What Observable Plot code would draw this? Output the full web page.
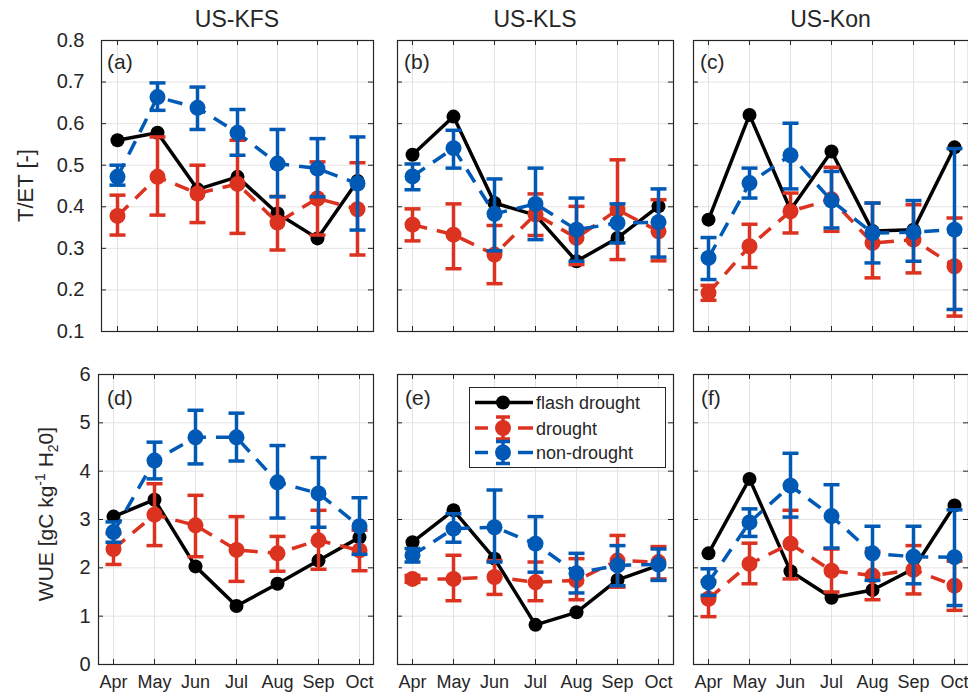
<!DOCTYPE html>
<html><head><meta charset="utf-8">
<script src="https://cdn.jsdelivr.net/npm/d3@7"></script>
<script src="https://cdn.jsdelivr.net/npm/@observablehq/plot@0.6"></script>
<style>
html,body{margin:0;padding:0;background:#fff;overflow:hidden}
#chart{position:relative;width:968px;height:692px;font-family:"Liberation Sans",Arial,sans-serif}
#chart svg{position:absolute}
</style></head><body><div id="chart"></div>
<script>
const months = ["Apr","May","Jun","Jul","Aug","Sep","Oct"];
const sites = ["US-KFS","US-KLS","US-Kon"];
const panelLabels = ["(a)","(b)","(c)","(d)","(e)","(f)"];
const tetTicks = [0.1,0.2,0.3,0.4,0.5,0.6,0.7,0.8];
const wueTicks = [0,1,2,3,4,5,6];
const legendLabels = ["flash drought","drought","non-drought"];
const seriesColors = ["#000000","#DC3220","#005AB5"];

// (a) US-KFS T/ET
const kfsTetFlash   = [0.560,0.578,0.442,0.472,0.384,0.324,0.462];
const kfsTetDrought = [0.378,0.472,0.432,0.455,0.362,0.420,0.394];
const kfsTetDroughtLo = [0.332,0.380,0.362,0.336,0.296,0.332,0.284];
const kfsTetDroughtHi = [0.428,0.568,0.500,0.560,0.425,0.508,0.506];
const kfsTetNon   = [0.472,0.664,0.638,0.578,0.504,0.492,0.456];
const kfsTetNonLo = [0.452,0.632,0.586,0.524,0.424,0.424,0.344];
const kfsTetNonHi = [0.500,0.698,0.688,0.634,0.586,0.564,0.568];
// (b) US-KLS T/ET
const klsTetFlash   = [0.525,0.617,0.409,0.380,0.269,0.325,0.401];
const klsTetDrought = [0.357,0.333,0.285,0.382,0.325,0.393,0.341];
const klsTetDroughtLo = [0.318,0.251,0.215,0.331,0.261,0.273,0.270];
const klsTetDroughtHi = [0.395,0.407,0.355,0.431,0.401,0.513,0.417];
const klsTetNon   = [0.473,0.541,0.383,0.407,0.345,0.361,0.363];
const klsTetNonLo = [0.441,0.493,0.294,0.321,0.269,0.313,0.279];
const klsTetNonHi = [0.503,0.584,0.467,0.493,0.421,0.407,0.443];
// (c) US-Kon T/ET
const konTetFlash   = [0.369,0.621,0.393,0.533,0.342,0.345,0.543];
const konTetDrought = [0.193,0.305,0.389,0.418,0.313,0.321,0.257];
const konTetDroughtLo = [0.175,0.254,0.337,0.341,0.229,0.241,0.137];
const konTetDroughtHi = [0.211,0.358,0.433,0.495,0.409,0.405,0.373];
const konTetNon   = [0.277,0.457,0.524,0.415,0.337,0.339,0.345];
const konTetNonLo = [0.225,0.421,0.443,0.349,0.265,0.269,0.153];
const konTetNonHi = [0.326,0.493,0.601,0.485,0.409,0.415,0.540];
// (d) US-KFS WUE
const kfsWueFlash   = [3.06,3.41,2.03,1.21,1.67,2.15,2.63];
const kfsWueDrought = [2.39,3.10,2.88,2.37,2.30,2.57,2.36];
const kfsWueDroughtLo = [2.07,2.46,2.23,1.72,1.93,1.97,1.94];
const kfsWueDroughtHi = [2.71,3.74,3.50,3.06,2.65,3.19,2.78];
const kfsWueNon   = [2.74,4.22,4.70,4.70,3.77,3.54,2.86];
const kfsWueNonLo = [2.53,3.84,4.15,4.21,3.03,2.84,2.28];
const kfsWueNonHi = [2.95,4.60,5.26,5.20,4.53,4.28,3.45];
// (e) US-KLS WUE
const klsWueFlash   = [2.53,3.19,2.19,0.82,1.08,1.75,2.05];
const klsWueDrought = [1.77,1.77,1.81,1.70,1.74,2.15,2.12];
const klsWueDroughtLo = [1.70,1.32,1.45,1.32,1.34,1.60,1.77];
const klsWueDroughtHi = [1.84,2.26,2.15,2.12,2.19,2.67,2.44];
const klsWueNon   = [2.26,2.81,2.84,2.50,1.89,2.05,2.07];
const klsWueNonLo = [2.12,2.53,2.12,1.91,1.48,1.63,1.74];
const klsWueNonHi = [2.40,3.12,3.61,3.06,2.30,2.46,2.39];
// (f) US-Kon WUE
const konWueFlash   = [2.30,3.84,1.93,1.38,1.54,1.98,3.29];
const konWueDrought = [1.36,2.08,2.50,1.94,1.84,1.96,1.63];
const konWueDroughtLo = [0.99,1.67,1.77,1.50,1.34,1.46,1.12];
const konWueDroughtHi = [1.73,2.51,3.19,2.39,2.34,2.46,2.14];
const konWueNon   = [1.70,2.94,3.70,3.07,2.30,2.23,2.22];
const konWueNonLo = [1.43,2.65,3.05,2.41,1.74,1.67,1.22];
const konWueNonHi = [1.98,3.22,4.37,3.72,2.86,2.86,3.20];

const FONT = '"Liberation Sans", Arial, Helvetica, sans-serif';
const INK = "#262626";
const GRID = "#e3e3e3";

const hline = {draw(ctx, size){ const r = Math.sqrt(size/Math.PI); ctx.moveTo(-r,0); ctx.lineTo(r,0); }};
function rows(v, lo, hi){ return months.map((m,i)=>({month:m, v:v[i], lo: lo ? lo[i] : null, hi: hi ? hi[i] : null})); }

function errSeries(data, color){
  return [
    Plot.line(data,{x:"month",y:"v",stroke:color,strokeWidth:3.5,strokeDasharray:"15,10",strokeLinecap:"butt"}),
    Plot.ruleX(data,{x:"month",y1:"lo",y2:"hi",stroke:color,strokeWidth:3.5}),
    Plot.dot(data,{x:"month",y:"lo",symbol:hline,r:8,stroke:color,strokeWidth:3.5,fill:"none"}),
    Plot.dot(data,{x:"month",y:"hi",symbol:hline,r:8,stroke:color,strokeWidth:3.5,fill:"none"}),
    Plot.dot(data,{x:"month",y:"v",r:8,fill:color,stroke:"none"})
  ];
}

const chart = document.getElementById("chart");

function panel(p){
  const ML = p.showY ? p.left : 1, MR = 1, MT = 1, MB = p.showX ? 30 : 1;
  const w = p.right - p.left, h = p.bottom - p.top;
  const marks = [
    Plot.gridY(p.ticks,{stroke:GRID,strokeOpacity:1,strokeWidth:1}),
    Plot.gridX(months,{stroke:GRID,strokeOpacity:1,strokeWidth:1}),
    Plot.tickY(p.ticks,{y:d=>d,stroke:INK,strokeWidth:1,insetRight:w-5}),
    Plot.tickY(p.ticks,{y:d=>d,stroke:INK,strokeWidth:1,insetLeft:w-5}),
    Plot.tickX(months,{x:d=>d,stroke:INK,strokeWidth:1,insetTop:h-5}),
    Plot.tickX(months,{x:d=>d,stroke:INK,strokeWidth:1,insetBottom:h-5}),
    Plot.frame({stroke:INK,strokeWidth:1.2}),
    Plot.line(rows(p.flash),{x:"month",y:"v",stroke:seriesColors[0],strokeWidth:3.5}),
    Plot.dot(rows(p.flash),{x:"month",y:"v",r:7,fill:seriesColors[0]}),
    ...errSeries(rows(p.dr,p.drLo,p.drHi), seriesColors[1]),
    ...errSeries(rows(p.nd,p.ndLo,p.ndHi), seriesColors[2])
  ];
  if (p.showY) marks.push(Plot.axisY(p.ticks,{tickSize:0,tickPadding:p.yPad,fontSize:20,label:null,tickFormat:p.fmt}));
  if (p.showX) marks.push(Plot.axisX({tickSize:0,tickPadding:11,fontSize:18,label:null}));
  const svg = Plot.plot({
    width: ML + w + MR, height: MT + h + MB,
    marginLeft: ML, marginRight: MR, marginTop: MT, marginBottom: MB,
    x: {type:"point", domain: months, padding: 0.325, ...(p.showX ? {} : {axis:null})},
    y: {domain: p.domain, ...(p.showY ? {} : {axis:null})},
    style: {fontFamily: FONT, color: INK, background: "none", overflow: "visible"},
    marks
  });
  svg.style.left = (p.left - ML) + "px";
  svg.style.top = (p.top - MT) + "px";
  chart.appendChild(svg);
}

const cols = [[101,373],[397,673],[693,968]];
const colsBottom = [[98,373],[397,673],[693,968]];
const topRow = [40,331], botRow = [374,664];

const topData = [
  [kfsTetFlash,kfsTetDrought,kfsTetDroughtLo,kfsTetDroughtHi,kfsTetNon,kfsTetNonLo,kfsTetNonHi],
  [klsTetFlash,klsTetDrought,klsTetDroughtLo,klsTetDroughtHi,klsTetNon,klsTetNonLo,klsTetNonHi],
  [konTetFlash,konTetDrought,konTetDroughtLo,konTetDroughtHi,konTetNon,konTetNonLo,konTetNonHi]
];
const botData = [
  [kfsWueFlash,kfsWueDrought,kfsWueDroughtLo,kfsWueDroughtHi,kfsWueNon,kfsWueNonLo,kfsWueNonHi],
  [klsWueFlash,klsWueDrought,klsWueDroughtLo,klsWueDroughtHi,klsWueNon,klsWueNonLo,klsWueNonHi],
  [konWueFlash,konWueDrought,konWueDroughtLo,konWueDroughtHi,konWueNon,konWueNonLo,konWueNonHi]
];

topData.forEach((d,i)=>panel({
  flash:d[0],dr:d[1],drLo:d[2],drHi:d[3],nd:d[4],ndLo:d[5],ndHi:d[6],
  left:cols[i][0],right:cols[i][1],top:topRow[0],bottom:topRow[1],
  domain:[0.1,0.8],ticks:tetTicks,showY:i===0,showX:false,yPad:17,fmt:d3.format(".1f")
}));
botData.forEach((d,i)=>panel({
  flash:d[0],dr:d[1],drLo:d[2],drHi:d[3],nd:d[4],ndLo:d[5],ndHi:d[6],
  left:colsBottom[i][0],right:colsBottom[i][1],top:botRow[0],bottom:botRow[1],
  domain:[0,6],ticks:wueTicks,showY:i===0,showX:true,yPad:8,fmt:d3.format("d")
}));

// overlay: titles, axis labels, panel labels, legend
const ov = d3.select(chart).append("svg").attr("width",968).attr("height",692)
  .style("left","0px").style("top","0px").style("font-family",FONT);
sites.forEach((s,i)=>{
  ov.append("text").attr("x",(cols[i][0]+cols[i][1])/2).attr("y",27).attr("text-anchor","middle")
    .attr("font-size",23).attr("fill",INK).text(s);
});
ov.append("text").attr("transform","translate(33,185.5) rotate(-90)").attr("text-anchor","middle")
  .attr("font-size",22).attr("fill",INK).text("T/ET [-]");
const wl = ov.append("text").attr("transform","translate(53,514) rotate(-90)").attr("text-anchor","middle")
  .attr("font-size",21).attr("fill",INK);
wl.append("tspan").text("WUE [gC kg");
wl.append("tspan").attr("dy",-8).attr("font-size",14).text("-1");
wl.append("tspan").attr("dy",8).text(" H");
wl.append("tspan").attr("dy",5).attr("font-size",14).text("2");
wl.append("tspan").attr("dy",-5).text("0]");

const labelPos = [[107,68.5],[404,68.5],[700,68.5],[107,404.5],[405,404.5],[701,404.5]];
panelLabels.forEach((t,i)=>{
  ov.append("text").attr("x",labelPos[i][0]).attr("y",labelPos[i][1]).attr("font-size",21).attr("fill",INK).text(t);
});

// legend
const lg = ov.append("g");
lg.append("rect").attr("x",469.5).attr("y",387.5).attr("width",196).attr("height",80)
  .attr("fill","#fff").attr("stroke",INK).attr("stroke-width",1);
const rowY = [402.5,428,452.5];
legendLabels.forEach((t,i)=>{
  const y = rowY[i], c = seriesColors[i];
  if (i===0){
    lg.append("line").attr("x1",475).attr("x2",533).attr("y1",y).attr("y2",y).attr("stroke",c).attr("stroke-width",3.5);
    lg.append("circle").attr("cx",503).attr("cy",y).attr("r",7).attr("fill",c);
  } else {
    [[475,488],[518,533]].forEach(([a,b])=>lg.append("line").attr("x1",a).attr("x2",b).attr("y1",y).attr("y2",y).attr("stroke",c).attr("stroke-width",3.5));
    lg.append("line").attr("x1",503).attr("x2",503).attr("y1",y-11).attr("y2",y+11).attr("stroke",c).attr("stroke-width",3.5);
    lg.append("line").attr("x1",496).attr("x2",510).attr("y1",y-11).attr("y2",y-11).attr("stroke",c).attr("stroke-width",3.5);
    lg.append("line").attr("x1",496).attr("x2",510).attr("y1",y+11).attr("y2",y+11).attr("stroke",c).attr("stroke-width",3.5);
    lg.append("circle").attr("cx",503).attr("cy",y).attr("r",8).attr("fill",c);
  }
  lg.append("text").attr("x",536).attr("y",y+6.5).attr("font-size",18).attr("fill",INK).text(t);
});
</script></body></html>
